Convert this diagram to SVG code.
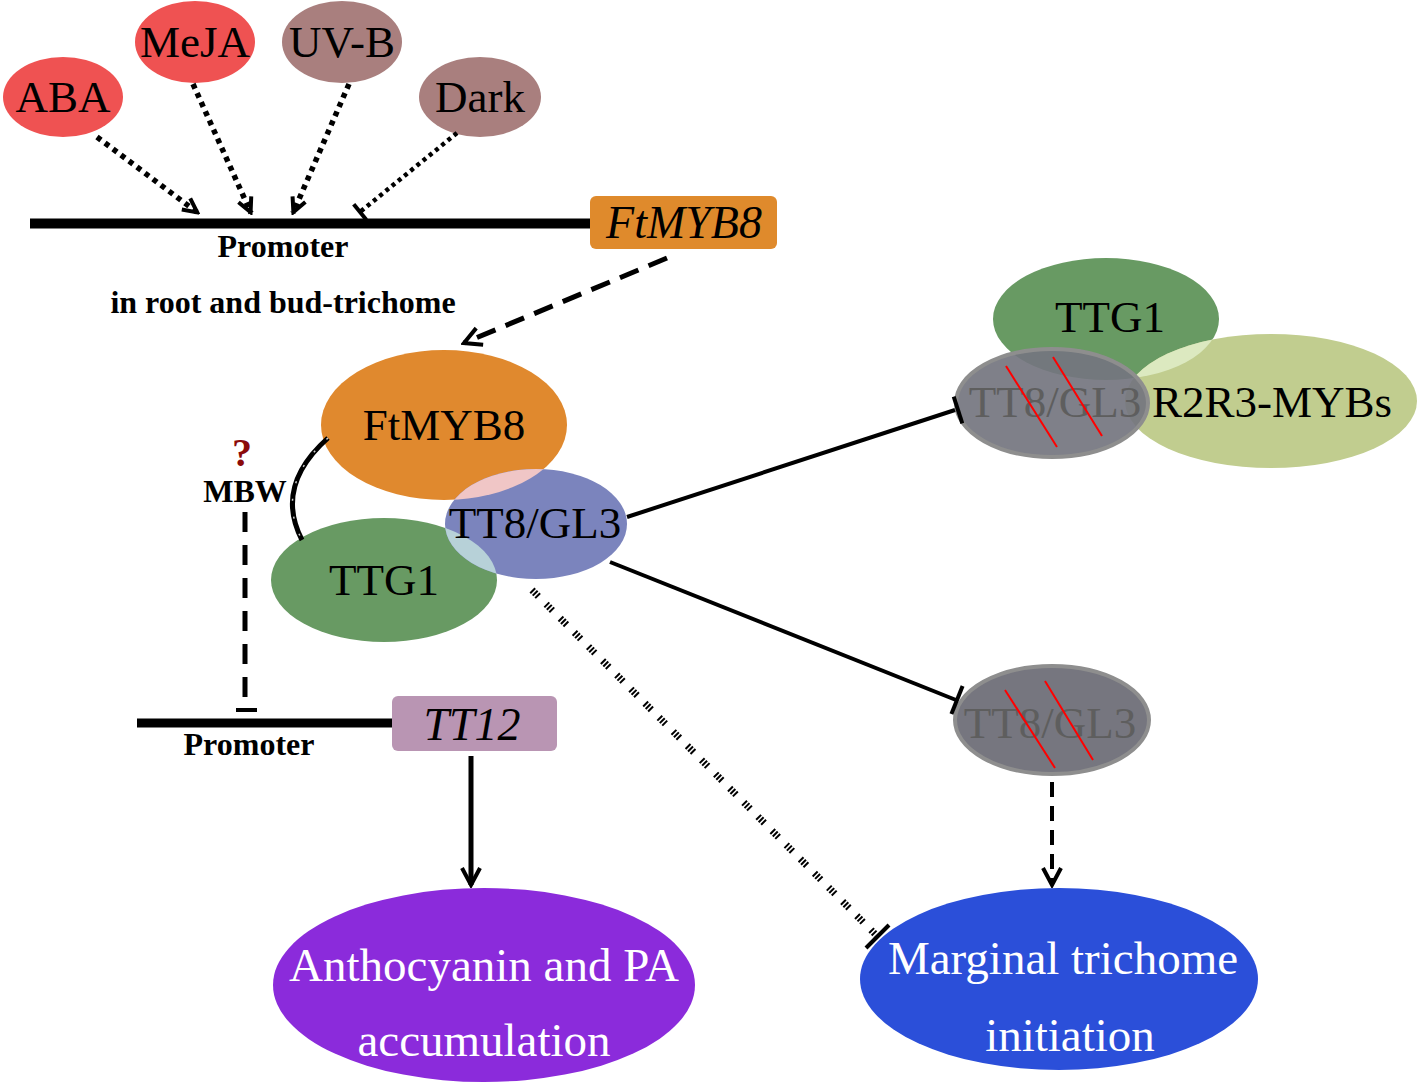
<svg xmlns="http://www.w3.org/2000/svg" width="1418" height="1086" viewBox="0 0 1418 1086">
<style>
.t{font-family:"Liberation Serif","Times New Roman",serif;text-anchor:middle}
.big{font-size:45px}
.lg{font-size:47px}
.sm{font-size:32px;font-weight:bold}
.wh{fill:#ffffff}
.ln{fill:none;stroke:#000}
.dot{stroke-width:5.5;stroke-dasharray:5 5}
.slash{stroke:#ff0000;stroke-width:2}
</style>
<defs>
<marker id="ah" viewBox="0 0 24 24" refX="21" refY="12" markerWidth="24" markerHeight="24" markerUnits="userSpaceOnUse" orient="auto">
<path d="M4,3 L21,12 L4,21" fill="none" stroke="#000" stroke-width="4"/>
</marker>
<marker id="ahs" viewBox="0 0 20 20" refX="18" refY="10" markerWidth="20" markerHeight="20" markerUnits="userSpaceOnUse" orient="auto">
<path d="M3,3 L17,10 L3,17" fill="none" stroke="#000" stroke-width="4"/>
</marker>
<clipPath id="cTT8"><ellipse cx="536" cy="524" rx="91" ry="55"/></clipPath>
<clipPath id="cTTG1r"><ellipse cx="1106" cy="319" rx="113" ry="61"/></clipPath>
</defs>
<rect width="1418" height="1086" fill="#ffffff"/>

<g id="ABA"><ellipse cx="63" cy="97" rx="60" ry="40" fill="#ef5252"/><text class="t big" x="63" y="112">ABA</text></g>
<g id="MeJA"><ellipse cx="195" cy="42" rx="60" ry="41" fill="#ef5252"/><text class="t big" x="195" y="57">MeJA</text></g>
<g id="UVB"><ellipse cx="342" cy="42" rx="60" ry="41" fill="#a97f7e"/><text class="t big" x="342" y="57">UV-B</text></g>
<g id="Dark"><ellipse cx="480" cy="97" rx="61" ry="40" fill="#a97f7e"/><text class="t big" x="480" y="112">Dark</text></g>

<g id="promoter1">
<line x1="30" y1="223.5" x2="592" y2="223.5" stroke="#000" stroke-width="10"/>
<text class="t sm" x="283" y="257">Promoter</text>
<text class="t sm" x="283" y="313">in root and bud-trichome</text>
</g>
<g id="FtMYB8gene"><rect x="590" y="196" width="187" height="53" rx="6" fill="#df8a2c"/><text class="t" x="684" y="238" font-size="46" font-style="italic">FtMYB8</text></g>

<g id="MBWcomplex">
<ellipse cx="444" cy="425" rx="123" ry="75" fill="#e0892e"/>
<ellipse cx="384" cy="580" rx="113" ry="62" fill="#689a63"/>
<ellipse cx="536" cy="524" rx="91" ry="55" fill="#7b84bd"/>
<g clip-path="url(#cTT8)">
<ellipse cx="444" cy="425" rx="123" ry="75" fill="#f0c6c6"/>
<ellipse cx="384" cy="580" rx="113" ry="62" fill="#b7d1d8"/>
</g>
<text class="t big" x="444" y="440">FtMYB8</text>
<text class="t big" x="535" y="538">TT8/GL3</text>
<text class="t big" x="384" y="595">TTG1</text>
</g>

<g id="MBWlabel">
<text class="t" x="242" y="466" font-size="40" font-weight="bold" fill="#8b0a0a">?</text>
<text class="t sm" x="245" y="502">MBW</text>
</g>

<g id="promoter2">
<line x1="137" y1="723" x2="394" y2="723" stroke="#000" stroke-width="9"/>
<text class="t sm" x="249" y="755">Promoter</text>
</g>
<g id="TT12"><rect x="392" y="696" width="165" height="55" rx="6" fill="#b995b3"/><text class="t" x="472" y="740" font-size="46" font-style="italic">TT12</text></g>

<g id="complex2">
<ellipse cx="1106" cy="319" rx="113" ry="61" fill="#689a63"/>
<ellipse cx="1271" cy="401" rx="146" ry="67" fill="#c1cd8f"/>
<ellipse cx="1271" cy="401" rx="146" ry="67" fill="#dce9c0" clip-path="url(#cTTG1r)"/>
<ellipse cx="1052" cy="403" rx="96" ry="54" fill="#74757f" fill-opacity="0.92" stroke="#8e8e8e" stroke-width="4"/>
<text class="t big" x="1110" y="332">TTG1</text>
<text class="t big" x="1272" y="417">R2R3-MYBs</text>
<text class="t big" x="1055" y="417" fill="#5e5e5e">TT8/GL3</text>
<line class="slash" x1="1006" y1="366" x2="1057" y2="447"/>
<line class="slash" x1="1053" y1="357" x2="1102" y2="436"/>
</g>

<g id="TT8GL3b">
<ellipse cx="1052" cy="720" rx="97" ry="54" fill="#76767f" stroke="#8e8e8e" stroke-width="4"/>
<text class="t big" x="1050" y="738" fill="#5e5e5e">TT8/GL3</text>
<line class="slash" x1="1005" y1="690" x2="1055" y2="768"/>
<line class="slash" x1="1045" y1="681" x2="1093" y2="760"/>
</g>

<g id="Anthocyanin"><ellipse cx="484" cy="985" rx="211" ry="97" fill="#8b2bdb"/>
<text class="t lg wh" x="484" y="981">Anthocyanin and PA</text>
<text class="t lg wh" x="484" y="1056">accumulation</text></g>

<g id="Marginal"><ellipse cx="1059" cy="979" rx="199" ry="91" fill="#2b4fd9"/>
<text class="t lg wh" x="1063" y="974">Marginal trichome</text>
<text class="t lg wh" x="1070" y="1051">initiation</text></g>

<g id="connectors">
<line class="ln dot" x1="97" y1="137" x2="198" y2="213" marker-end="url(#ahs)"/>
<line class="ln dot" x1="193" y1="84" x2="251" y2="213" marker-end="url(#ahs)"/>
<line class="ln dot" x1="349" y1="84" x2="293" y2="213" marker-end="url(#ahs)"/>
<line class="ln" x1="457" y1="133" x2="360" y2="212" stroke-width="4.5" stroke-dasharray="4 4"/>
<line class="ln" x1="353.7" y1="204.2" x2="366.3" y2="219.8" stroke-width="4"/>
<line class="ln" x1="667" y1="258" x2="464" y2="343" stroke-width="5" stroke-dasharray="20 11" marker-end="url(#ah)"/>
<path class="ln" d="M328 438 Q274 486 302 540" stroke-width="5"/>
<path d="M328 438 Q274 486 302 540" fill="none" stroke="#ffffff" stroke-width="1.5" stroke-dasharray="2 16" opacity="0.8"/>
<line class="ln" x1="245" y1="512" x2="245" y2="698" stroke-width="5" stroke-dasharray="20 13"/>
<line class="ln" x1="236" y1="710" x2="257" y2="710" stroke-width="4"/>
<line class="ln" x1="471" y1="756" x2="471" y2="885" stroke-width="5" marker-end="url(#ah)"/>
<line class="ln" x1="627" y1="517" x2="955" y2="410" stroke-width="4"/>
<line class="ln" x1="953.7" y1="396.7" x2="962.3" y2="423.3" stroke-width="4"/>
<line class="ln" x1="610" y1="562" x2="956" y2="700" stroke-width="4"/>
<line class="ln" x1="962.6" y1="686" x2="951.4" y2="714" stroke-width="4"/>
<line class="ln" x1="532" y1="590" x2="876" y2="935" stroke-width="7" stroke-dasharray="2 1.5 2 1.5 2 11"/>
<line class="ln" x1="866" y1="948" x2="889" y2="925" stroke-width="4"/>
<line class="ln" x1="1052" y1="782" x2="1052" y2="885" stroke-width="4" stroke-dasharray="15 9" marker-end="url(#ah)"/>
</g>
</svg>
